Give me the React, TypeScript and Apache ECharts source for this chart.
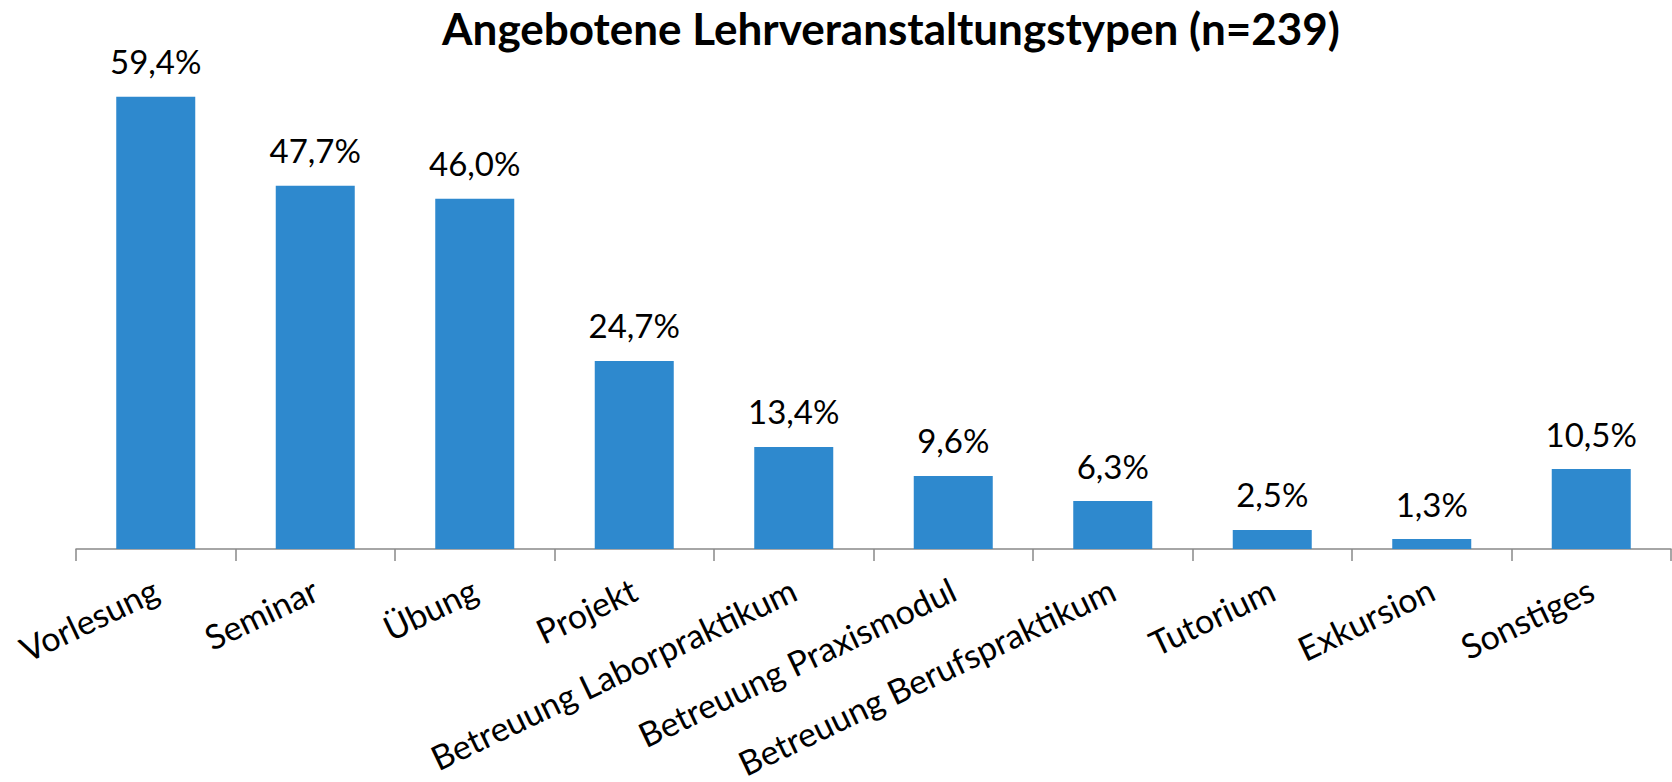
import React, { useEffect, useRef } from "react";
import * as echarts from "echarts";

const categories = [
  "Vorlesung",
  "Seminar",
  "Übung",
  "Projekt",
  "Betreuung Laborpraktikum",
  "Betreuung Praxismodul",
  "Betreuung Berufspraktikum",
  "Tutorium",
  "Exkursion",
  "Sonstiges",
];
const values = [59.4, 47.7, 46.0, 24.7, 13.4, 9.6, 6.3, 2.5, 1.3, 10.5];
const titleText = "Angebotene Lehrveranstaltungstypen (n=239)";

const FONT = "Lato, 'Open Sans', sans-serif";

export default function App() {
  const ref = useRef<HTMLDivElement>(null);
  useEffect(() => {
    if (!ref.current) return;
    const chart = echarts.init(ref.current, undefined, { renderer: "svg" });
    chart.setOption({
      animation: false,
      backgroundColor: "#ffffff",
      title: {
        text: titleText,
        left: 891,
        top: 6,
        padding: 0,
        textAlign: "center",
        textStyle: {
          fontFamily: FONT,
          fontWeight: "bold",
          fontSize: 44,
          color: "#000000",
        },
      },
      grid: {
        left: 76,
        right: 1,
        top: 16,
        bottom: 233,
        containLabel: false,
        outerBoundsMode: "none",
      },
      xAxis: {
        type: "category",
        data: categories,
        axisLine: { show: true, lineStyle: { color: "#898989", width: 1.5 } },
        axisTick: { show: true, length: 12, lineStyle: { color: "#898989", width: 1.5 } },
        axisLabel: {
          interval: 0,
          rotate: 25.5,
          margin: 38,
          fontFamily: FONT,
          fontSize: 34,
          color: "#000000",
        },
      },
      yAxis: {
        type: "value",
        min: 0,
        max: 70,
        show: false,
        splitLine: { show: false },
      },
      series: [
        {
          type: "bar",
          data: values,
          barWidth: 79,
          itemStyle: { color: "#2E89CE" },
          label: {
            show: true,
            position: "top",
            distance: 19,
            fontFamily: FONT,
            fontSize: 33,
            color: "#000000",
            formatter: (p: any) => p.value.toFixed(1).replace(".", ",") + "%",
          },
        },
      ],
    });
    return () => chart.dispose();
  }, []);
  return (
    <div
      ref={ref}
      style={{ position: "absolute", left: 0, top: 0, width: 1672, height: 782 }}
    />
  );
}
